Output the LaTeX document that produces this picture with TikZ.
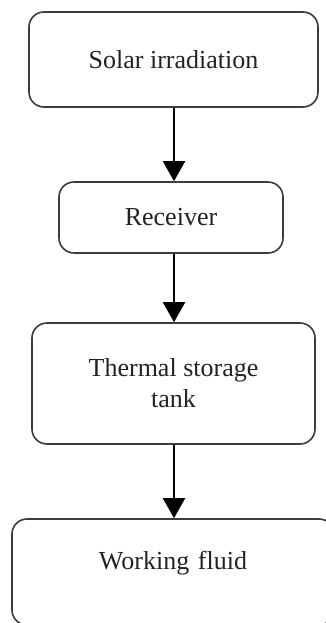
\documentclass[tikz,border=0pt]{standalone}
\usepackage{fontspec}
\setmainfont{Liberation Serif}
\usetikzlibrary{arrows.meta}
\definecolor{etapetrait}{RGB}{60,60,60}
\definecolor{etapetexte}{RGB}{35,35,35}
\tikzset{
	etape/.style={draw=etapetrait, line width=1.6pt, rounded corners=15pt, align=center, inner sep=0pt, text=etapetexte},
	fleche/.style={-{Triangle[width=22pt,length=20pt]}, line width=2pt, black}
}

\begin{document}
\begin{tikzpicture}[x=1pt, y=-1pt, font=\fontsize{26}{31}\selectfont]
			\useasboundingbox (0,0) rectangle (326,623);
			\node[etape, minimum width=289pt, minimum height=95pt] (soleil) at (173.5,59.5) {Solar irradiation};
			\node[etape, minimum width=224pt, minimum height=71pt] (recepteur) at (171,217.5) {Receiver};
			\node[etape, minimum width=283pt, minimum height=121pt] (reservoir) at (173.5,383.5) {Thermal storage\\tank};
			\node[etape, minimum width=322pt, text width=322pt, text height=50pt, text depth=56pt, anchor=base] (fluide) at (173,569) {Working fluid};
			\draw[fleche] (soleil.south -| 174,0) -- (recepteur.north -| 174,0);
			\draw[fleche] (recepteur.south -| 174,0) -- (reservoir.north -| 174,0);
			\draw[fleche] (reservoir.south -| 174,0) -- (fluide.north -| 174,0);
		\end{tikzpicture}
\end{document}
